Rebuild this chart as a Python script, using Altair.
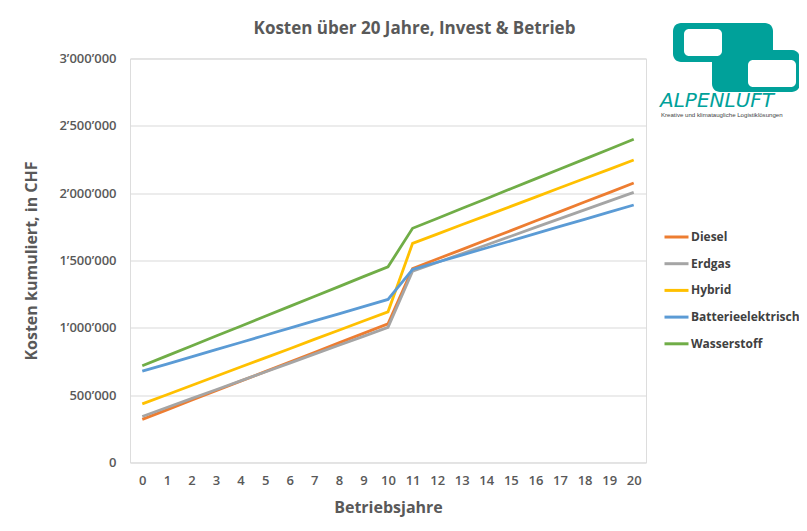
import altair as alt
import pandas as pd

years = list(range(21))
series_names = ["Diesel", "Erdgas", "Hybrid", "Batterieelektrisch", "Wasserstoff"]
series_colors = ["#ED7D31", "#A5A5A5", "#FFC000", "#5B9BD5", "#70AD47"]

diesel = [320000, 391000, 462000, 533000, 604000, 675000, 746000, 817000, 888000, 959000, 1030000,
          1440000, 1511000, 1581000, 1652000, 1722000, 1793000, 1863000, 1934000, 2004000, 2075000]
erdgas = [342000, 408000, 474000, 540000, 606000, 672000, 738000, 805000, 871000, 937000, 1003000,
          1420000, 1485000, 1550000, 1615000, 1680000, 1746000, 1811000, 1876000, 1941000, 2006000]
hybrid = [435000, 503000, 572000, 640000, 709000, 777000, 845000, 914000, 982000, 1051000, 1119000,
          1627000, 1696000, 1765000, 1833000, 1902000, 1971000, 2040000, 2109000, 2177000, 2246000]
batterie = [678000, 731000, 785000, 838000, 891000, 945000, 998000, 1051000, 1104000, 1158000, 1211000,
            1434000, 1487000, 1540000, 1593000, 1646000, 1700000, 1753000, 1806000, 1859000, 1912000]
wasserstoff = [718000, 792000, 865000, 939000, 1012000, 1086000, 1159000, 1233000, 1306000, 1380000, 1453000,
               1739000, 1812000, 1886000, 1959000, 2033000, 2106000, 2179000, 2253000, 2326000, 2400000]

y_ticks = [0, 500000, 1000000, 1500000, 2000000, 2500000, 3000000]
chart_title = "Kosten \u00fcber 20 Jahre, Invest & Betrieb"

rows = []
for name, vals in zip(series_names, [diesel, erdgas, hybrid, batterie, wasserstoff]):
    for yr, v in zip(years, vals):
        rows.append({"Jahr": yr, "Kosten": v, "Serie": name})
df = pd.DataFrame(rows)

TEAL = "#00A19A"
FONT = "Open Sans"

lines = alt.Chart(df).mark_line(strokeWidth=2.8).encode(
    x=alt.X("Jahr:O", scale=alt.Scale(type="point", padding=0.5),
            axis=alt.Axis(title="Betriebsjahre", labelAngle=0, domain=False, ticks=False,
                          labelPadding=12, titlePadding=12, labelFontSize=13, labelFont=FONT,
                          labelFontWeight=600, labelColor="#595959",
                          titleFont=FONT, titleFontSize=16, titleFontWeight="bold",
                          titleColor="#595959")),
    y=alt.Y("Kosten:Q", scale=alt.Scale(domain=[0, 3000000], nice=False),
            axis=alt.Axis(title="Kosten kumuliert, in CHF", values=y_ticks, domain=False, ticks=False,
                          labelExpr="replace(format(datum.value, ','), regexp(',', 'g'), '\u2019')",
                          labelPadding=14, labelFontSize=13, labelFont=FONT, labelFontWeight=600,
                          labelColor="#595959", gridColor="#D9D9D9", gridWidth=1,
                          titleFont=FONT, titleFontSize=16, titleFontWeight="bold",
                          titleColor="#595959", titlePadding=19)),
    color=alt.Color("Serie:N", sort=series_names,
                    scale=alt.Scale(domain=series_names, range=series_colors),
                    legend=alt.Legend(title=None, orient="none", legendX=533, legendY=165,
                                      symbolType="stroke", symbolSize=576, symbolStrokeWidth=3,
                                      labelFont=FONT, labelFontSize=12, labelFontWeight="bold",
                                      labelColor="#404040", labelOffset=1, rowPadding=6.7,
                                      labelLimit=300)),
    order=alt.Order("Jahr:O"),
)

one = pd.DataFrame({"a": [0]})

def box(x1, x2, y1, y2, color, r):
    return alt.Chart(one).mark_rect(color=color, cornerRadius=r).encode(
        x=alt.value(x1), x2=alt.value(x2), y=alt.value(y1), y2=alt.value(y2))

logo = (box(543, 643, -35.5, 3.5, TEAL, 8) + box(582, 670, -8.5, 33.5, TEAL, 8)
        + box(554, 592, -29.5, -2.5, "white", 5) + box(618, 666, 1.5, 28.5, "white", 5))

logo_text = alt.Chart(one).mark_text(text="ALPENLUFT", align="left", baseline="middle",
                                     font="DejaVu Sans", fontSize=20, fontStyle="italic",
                                     fontWeight="normal", color=TEAL).encode(
    x=alt.value(530), y=alt.value(42.5))
logo_sub = alt.Chart(one).mark_text(text="Kreative und klimataugliche Logistikl\u00f6sungen",
                                    align="left", baseline="middle", font="Liberation Sans",
                                    fontSize=6.1, color="#444444").encode(
    x=alt.value(531), y=alt.value(56.5))

title_text = alt.Chart(one).mark_text(text=chart_title, align="center", baseline="middle",
                                      font=FONT, fontSize=17, fontWeight="bold",
                                      color="#595959").encode(
    x=alt.value(284.5), y=alt.value(-29.5))

chart = alt.layer(lines, logo, logo_text, logo_sub, title_text).properties(
    width=516, height=404,
    autosize=alt.AutoSizeParams(type="none"),
    padding={"left": 122, "top": 50.5, "right": 153, "bottom": 58},
).configure_view(stroke=None).configure(background="white")

chart.save("out.html", embed_options={"renderer": "svg", "actions": False})
